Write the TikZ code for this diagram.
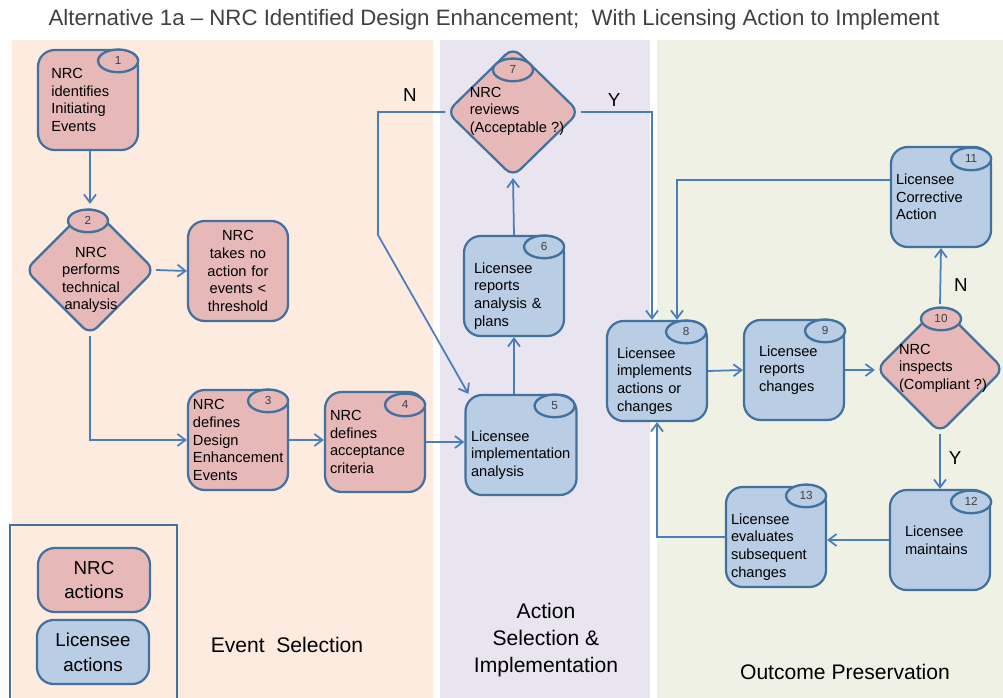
\documentclass[tikz,border=0pt]{standalone}
\usepackage{fontspec}
\setmainfont{Liberation Sans}
\usetikzlibrary{arrows.meta,positioning,shapes.geometric,calc}

\definecolor{nrcfill}{RGB}{230,185,184}
\definecolor{licfill}{RGB}{185,205,229}
\definecolor{edgeblue}{RGB}{65,113,156}
\definecolor{linkblue}{RGB}{74,126,187}
\definecolor{esback}{RGB}{253,235,223}
\definecolor{asback}{RGB}{232,228,240}
\definecolor{opback}{RGB}{238,241,228}
\definecolor{titlegray}{RGB}{64,64,64}

% taller first line, pushes the text of a box a little down
\newcommand{\droptext}{\rule{0pt}{26pt}}

\begin{document}
\begin{tikzpicture}[
        x=0.03cm, y=-0.03cm,
        stepbox/.style={rectangle, rounded corners=0.5cm, draw=edgeblue, line width=1.9pt, minimum width=3cm, minimum height=3cm, text width=2.7cm, align=left, inner sep=0pt, font=\fontsize{12.5}{15}\selectfont},
        nrcbox/.style={stepbox, fill=nrcfill},
        licbox/.style={stepbox, fill=licfill},
        decision/.style={diamond, rounded corners=0.3cm, draw=edgeblue, line width=1.9pt, fill=nrcfill, minimum width=3.9cm, minimum height=3.9cm, inner sep=0pt},
        decisiontext/.style={align=left, inner sep=0pt, font=\fontsize{12.5}{15}\selectfont},
        numtag/.style={ellipse, draw=edgeblue, line width=2pt, minimum width=1.2cm, minimum height=0.68cm, inner sep=0pt, font=\fontsize{10}{11}\selectfont, text=titlegray},
        keybox/.style={minimum width=3.36cm, minimum height=1.92cm, text width=3cm, align=center, font=\fontsize{16}{21}\selectfont},
        zonelabel/.style={align=center, font=\fontsize{18}{23}\selectfont},
        flaglabel/.style={font=\fontsize{16}{18}\selectfont},
        arrow/.style={-{Straight Barb[length=2.4mm, width=3.6mm]}, draw=linkblue, line width=1.5pt},
    ]
        \useasboundingbox (0,0) rectangle (1003,698);

        % Background zones
        \fill[esback] (12,40) rectangle (433,698);
        \fill[asback] (440,40) rectangle (650,698);
        \fill[opback] (657,40) rectangle (1003,698);

        \node[font=\fontsize{19}{22}\selectfont, text=titlegray] (title) at (494,20) {Alternative 1a -- NRC Identified Design Enhancement;\ \ With Licensing Action to Implement};

        % Event selection
        \node[nrcbox, text width=2.2cm] (n1) at (88,100) {NRC\\identifies\\Initiating\\Events};
        \node[numtag, fill=nrcfill] (t1) at ($(n1.north east)+(-21,12)$) {1};
        \node[decision] (d2) at (90,270) {};
        \node[numtag, fill=nrcfill] (t2) at ($(d2.north)+(-2,17)$) {2};
        \node[decisiontext, align=center] (d2txt) at (91,280) {NRC\\performs\\technical\\analysis};
        \node[nrcbox, align=center] (n2b) at (238,271) {NRC\\takes no\\action for\\events <\\threshold};
        \node[nrcbox] (n3) at (238,440) {NRC\\defines\\Design\\Enhancement\\Events};
        \node[numtag, fill=nrcfill] (t3) at ($(n3.north east)+(-21,12)$) {3};
        \node[nrcbox] (n4) at (375,442) {NRC\\defines\\acceptance\\criteria};
        \node[numtag, fill=nrcfill] (t4) at ($(n4.north east)+(-21,14)$) {4};

        % Action selection and implementation
        \node[licbox, minimum width=3.33cm, text width=3cm] (n5) at (521,445) {\droptext Licensee\\implementation\\analysis};
        \node[numtag, fill=licfill] (t5) at ($(n5.north east)+(-23,12)$) {5};
        \node[licbox, text width=2.4cm] (n6) at (514,286) {\droptext Licensee\\reports\\analysis \&\\plans};
        \node[numtag, fill=licfill] (t6) at ($(n6.north east)+(-21,12)$) {6};
        \node[decision, minimum width=3.99cm] (d7) at (513,112) {};
        \node[numtag, fill=nrcfill] (t7) at ($(d7.north)+(0,24)$) {7};
        \node[decisiontext] (d7txt) at (517,111) {NRC\\reviews\\(Acceptable ?)};

        % Outcome preservation
        \node[licbox, text width=2.4cm] (n8) at (657,371) {\droptext Licensee\\implements\\actions or\\changes};
        \node[numtag, fill=licfill] (t8) at ($(n8.north east)+(-22,12)$) {8};
        \node[licbox, text width=2.1cm] (n9) at (794,370) {Licensee\\reports\\changes};
        \node[numtag, fill=licfill] (t9) at ($(n9.north east)+(-20,12)$) {9};
        \node[decision, minimum width=3.84cm, minimum height=3.84cm] (d10) at (940,369) {};
        \node[numtag, fill=nrcfill] (t10) at ($(d10.north)+(1,15)$) {10};
        \node[decisiontext] (d10txt) at (943,368) {NRC\\inspects\\(Compliant ?)};
        \node[licbox] (n11) at (941,197) {Licensee\\Corrective\\Action};
        \node[numtag, fill=licfill] (t11) at ($(n11.north east)+(-21,13)$) {11};
        \node[licbox, text width=2.1cm] (n12) at (940,540) {Licensee\\maintains};
        \node[numtag, fill=licfill] (t12) at ($(n12.north east)+(-20,13)$) {12};
        \node[licbox] (n13) at (776,537) {\droptext Licensee\\evaluates\\subsequent\\changes};
        \node[numtag, fill=licfill] (t13) at ($(n13.north east)+(-21,10)$) {13};

        % Legend
        \draw[edgeblue, line width=1.2pt] (10,702) |- (177,525) -- (177,702);
        \node[nrcbox, keybox] (keynrc) at (94,580) {NRC\\actions};
        \node[licbox, keybox] (keylic) at (93,652) {Licensee\\actions};

        % Zone labels
        \node[zonelabel] (eslabel) at (287,645) {Event\ \ Selection};
        \node[zonelabel] (aslabel) at (546,640) {Action\\Selection \&\\Implementation};
        \node[zonelabel] (oplabel) at (845,672) {Outcome Preservation};

        % Flow
        \draw[arrow] (d2.north |- n1.south) -- (d2.north);
        \draw[arrow] (d2.east) -- (n2b.west);
        \draw[arrow] (d2.south) |- (n3.west);
        \draw[arrow] (n3.east) -- (n3.east -| n4.west);
        \draw[arrow] (n4.east) -- (n4.east -| n5.west);
        \draw[arrow] (n5.north -| n6.south) -- (n6.south);
        \draw[arrow] (n6.north) -- (d7.south);

        % Review decision
        \coordinate (nbend) at (378,235);
        \draw[arrow] (d7.west) -| (nbend) -- ($(n5.north west)+(4,0)$);
        \node[flaglabel] (no7) at (410,95) {N};
        \draw[arrow] (d7.east) -| ($(n8.north)+(-5,0)$);
        \node[flaglabel] (yes7) at (614,100) {Y};

        % Implementation loop
        \draw[arrow] (n8.east) -- (n9.west);
        \draw[arrow] (n9.east) -- (n9.east -| d10.west);
        \draw[arrow] (d10.north) -- (n11.south);
        \node[flaglabel] (no10) at (961,285) {N};
        \draw[arrow] ($(n11.west)+(0,-17)$) -| ($(n8.north)+(20,0)$);
        \draw[arrow] (d10.south) -- (n12.north);
        \node[flaglabel] (yes10) at (955,458) {Y};
        \draw[arrow] (n12.west) -- (n12.west -| n13.east);
        \draw[arrow] (n13.west) -| (n8.south);

    \end{tikzpicture}
\end{document}
